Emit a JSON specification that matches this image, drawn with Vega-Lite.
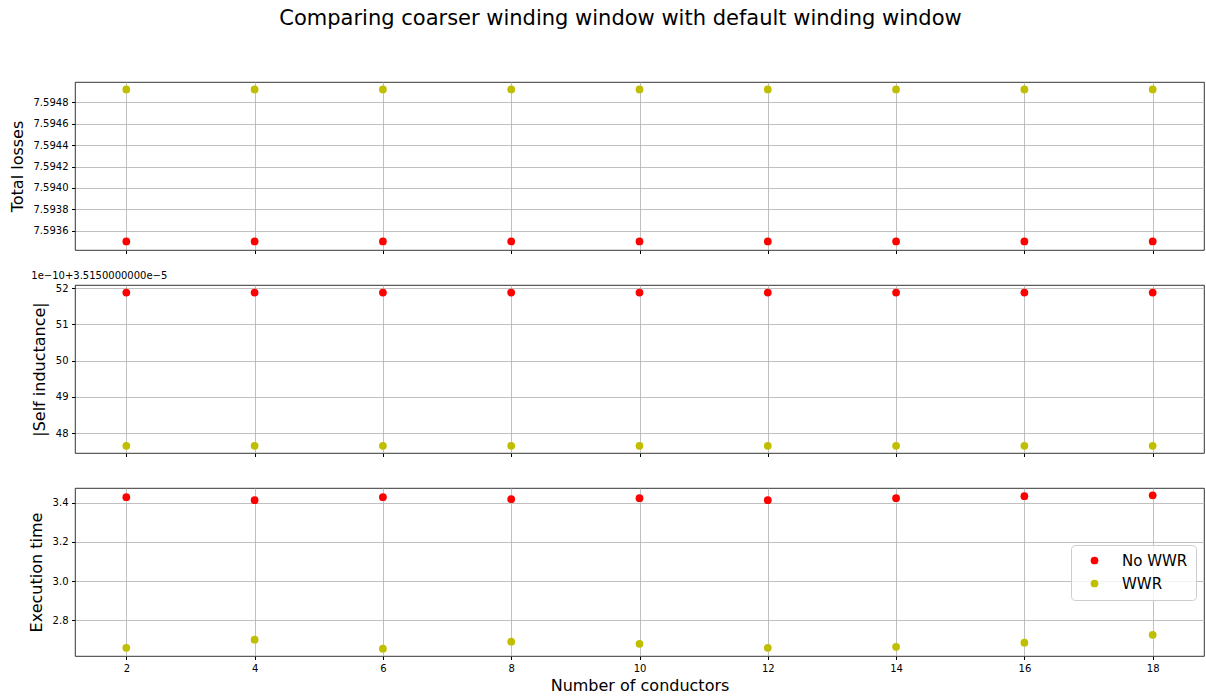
{
  "$schema": "https://vega.github.io/schema/vega-lite/v6.json",
  "title": {"text": "Comparing coarser winding window with default winding window", "fontSize": 21, "font": "DejaVu Sans", "fontWeight": "normal", "anchor": "middle", "offset": 53, "dx": 14, "color": "#000"},
  "padding": {"left": 8, "top": 7, "right": 2, "bottom": 3},
  "spacing": 35,
  "bounds": "flush",
  "background": "white",
  "config": {
    "font": "DejaVu Sans",
    "view": {"stroke": "#000", "strokeWidth": 0.8},
    "axis": {"labelFont": "DejaVu Sans", "labelFontSize": 10, "labelColor": "#000", "titleFont": "DejaVu Sans", "titleFontSize": 16, "titleFontWeight": "normal", "titleColor": "#000", "tickColor": "#000", "tickSize": 3.5, "domain": false, "grid": true, "gridColor": "#b0b0b0", "gridWidth": 0.8, "labelPadding": 3.5, "titlePadding": 8}
  },
  "resolve": {"legend": {"color": "independent"}},
  "data": {"values": [
    {"n": 2, "series": "No WWR", "losses": 7.5935, "inductance": 3.5155188e-5, "time": 3.427},
    {"n": 4, "series": "No WWR", "losses": 7.5935, "inductance": 3.5155188e-5, "time": 3.412},
    {"n": 6, "series": "No WWR", "losses": 7.5935, "inductance": 3.5155188e-5, "time": 3.427},
    {"n": 8, "series": "No WWR", "losses": 7.5935, "inductance": 3.5155188e-5, "time": 3.417},
    {"n": 10, "series": "No WWR", "losses": 7.5935, "inductance": 3.5155188e-5, "time": 3.422},
    {"n": 12, "series": "No WWR", "losses": 7.5935, "inductance": 3.5155188e-5, "time": 3.412},
    {"n": 14, "series": "No WWR", "losses": 7.5935, "inductance": 3.5155188e-5, "time": 3.422},
    {"n": 16, "series": "No WWR", "losses": 7.5935, "inductance": 3.5155188e-5, "time": 3.432},
    {"n": 18, "series": "No WWR", "losses": 7.5935, "inductance": 3.5155188e-5, "time": 3.437},
    {"n": 2, "series": "WWR", "losses": 7.59492, "inductance": 3.5154765e-5, "time": 2.660},
    {"n": 4, "series": "WWR", "losses": 7.59492, "inductance": 3.5154765e-5, "time": 2.701},
    {"n": 6, "series": "WWR", "losses": 7.59492, "inductance": 3.5154765e-5, "time": 2.655},
    {"n": 8, "series": "WWR", "losses": 7.59492, "inductance": 3.5154765e-5, "time": 2.691},
    {"n": 10, "series": "WWR", "losses": 7.59492, "inductance": 3.5154765e-5, "time": 2.680},
    {"n": 12, "series": "WWR", "losses": 7.59492, "inductance": 3.5154765e-5, "time": 2.660},
    {"n": 14, "series": "WWR", "losses": 7.59492, "inductance": 3.5154765e-5, "time": 2.665},
    {"n": 16, "series": "WWR", "losses": 7.59492, "inductance": 3.5154765e-5, "time": 2.686},
    {"n": 18, "series": "WWR", "losses": 7.59492, "inductance": 3.5154765e-5, "time": 2.726}
  ]},
  "vconcat": [
    {
      "width": 1129, "height": 168,
      "mark": {"type": "point", "filled": true, "size": 60, "opacity": 1},
      "encoding": {
        "x": {"field": "n", "type": "quantitative", "scale": {"domain": [1.2, 18.8], "nice": false, "zero": false}, "axis": {"values": [2,4,6,8,10,12,14,16,18], "labels": false, "title": null}},
        "y": {"field": "losses", "type": "quantitative", "scale": {"domain": [7.59342, 7.59499], "nice": false, "zero": false}, "axis": {"values": [7.5936, 7.5938, 7.594, 7.5942, 7.5944, 7.5946, 7.5948], "format": ".4f", "title": "Total losses"}},
        "color": {"field": "series", "type": "nominal", "scale": {"domain": ["No WWR", "WWR"], "range": ["#ff0000", "#bfbf00"]}, "legend": null}
      }
    },
    {
      "width": 1129, "height": 168,
      "title": {"text": "1e−10+3.5150000000e−5", "anchor": "start", "fontSize": 10, "fontWeight": "normal", "offset": 2, "font": "DejaVu Sans", "color": "#000"},
      "mark": {"type": "point", "filled": true, "size": 60, "opacity": 1},
      "encoding": {
        "x": {"field": "n", "type": "quantitative", "scale": {"domain": [1.2, 18.8], "nice": false, "zero": false}, "axis": {"values": [2,4,6,8,10,12,14,16,18], "labels": false, "title": null}},
        "y": {"field": "inductance", "type": "quantitative", "scale": {"domain": [3.5154745e-5, 3.5155209e-5], "nice": false, "zero": false}, "axis": {"values": [3.51548e-5, 3.51549e-5, 3.5155e-5, 3.51551e-5, 3.51552e-5], "labelExpr": "format((datum.value - 3.515e-5) * 1e10, '.0f')", "title": "|Self inductance|"}},
        "color": {"field": "series", "type": "nominal", "scale": {"domain": ["No WWR", "WWR"], "range": ["#ff0000", "#bfbf00"]}, "legend": null}
      }
    },
    {
      "width": 1129, "height": 168,
      "mark": {"type": "point", "filled": true, "size": 60, "opacity": 1},
      "encoding": {
        "x": {"field": "n", "type": "quantitative", "scale": {"domain": [1.2, 18.8], "nice": false, "zero": false}, "axis": {"values": [2,4,6,8,10,12,14,16,18], "format": "d", "title": "Number of conductors", "titlePadding": 4}},
        "y": {"field": "time", "type": "quantitative", "scale": {"domain": [2.618, 3.474], "nice": false, "zero": false}, "axis": {"values": [2.8, 3.0, 3.2, 3.4], "format": ".1f", "title": "Execution time"}},
        "color": {"field": "series", "type": "nominal", "scale": {"domain": ["No WWR", "WWR"], "range": ["#ff0000", "#bfbf00"]},
          "legend": {"orient": "none", "legendX": 996, "legendY": 57, "title": null, "fillColor": "rgba(255,255,255,0.8)", "strokeColor": "#cccccc", "cornerRadius": 4, "padding": 8, "labelFont": "DejaVu Sans", "labelFontSize": 15, "labelColor": "#000", "symbolSize": 60, "symbolType": "circle", "symbolOffset": 8, "labelOffset": 20, "rowPadding": 7, "symbolStrokeWidth": 0}}
      }
    }
  ]
}
